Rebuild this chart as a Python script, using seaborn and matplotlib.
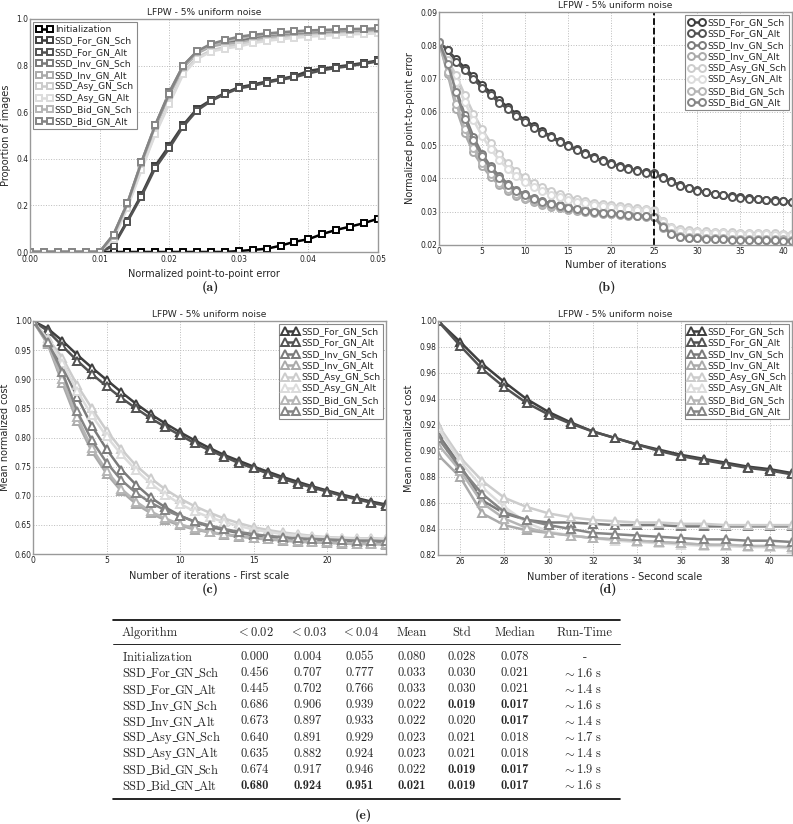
import matplotlib
matplotlib.use("Agg")
import matplotlib.pyplot as plt
import seaborn as sns
import numpy as np
from matplotlib.lines import Line2D

sns.set_style("whitegrid", {"grid.linestyle": ":", "grid.color": "#bbbbbb",
                            "axes.edgecolor": "#999999", "xtick.direction": "in",
                            "ytick.direction": "in"})
plt.rcParams['font.family'] = ['DejaVu Sans']
plt.rcParams['mathtext.fontset'] = 'cm'

# ---------------- data ----------------
methods = ['SSD_For_GN_Sch', 'SSD_For_GN_Alt', 'SSD_Inv_GN_Sch', 'SSD_Inv_GN_Alt',
           'SSD_Asy_GN_Sch', 'SSD_Asy_GN_Alt', 'SSD_Bid_GN_Sch', 'SSD_Bid_GN_Alt']
colors = ['#3e3e3e', '#525252', '#7a7a7a', '#aaaaaa', '#cccccc', '#dcdcdc', '#b5b5b5', '#858585']
init_color = '#000000'

# (a) cumulative error distribution
err_x = [0.000, 0.002, 0.004, 0.006, 0.008, 0.010, 0.012, 0.014, 0.016, 0.018, 0.020, 0.022, 0.024,
         0.026, 0.028, 0.030, 0.032, 0.034, 0.036, 0.038, 0.040, 0.042, 0.044, 0.046, 0.048, 0.050]
ced_init = [0, 0, 0, 0, 0, 0, 0, 0, 0, 0, 0, 0, 0, 0, 0,
            0.004, 0.009, 0.014, 0.027, 0.044, 0.055, 0.077, 0.095, 0.109, 0.124, 0.143]
ced_for_sch = [0, 0, 0, 0, 0, 0, 0.030, 0.135, 0.245, 0.370, 0.456, 0.545, 0.615, 0.652, 0.682, 0.707,
               0.718, 0.732, 0.743, 0.755, 0.777, 0.787, 0.795, 0.803, 0.812, 0.822]
ced_for_alt = [0, 0, 0, 0, 0, 0, 0.025, 0.130, 0.238, 0.360, 0.445, 0.538, 0.607, 0.648, 0.678, 0.702,
               0.713, 0.727, 0.739, 0.750, 0.766, 0.780, 0.790, 0.798, 0.808, 0.818]
ced_inv_sch = [0, 0, 0, 0, 0, 0, 0.075, 0.210, 0.385, 0.545, 0.686, 0.800, 0.860, 0.890, 0.900, 0.906,
               0.918, 0.927, 0.933, 0.937, 0.939, 0.942, 0.945, 0.947, 0.949, 0.951]
ced_inv_alt = [0, 0, 0, 0, 0, 0, 0.070, 0.205, 0.375, 0.535, 0.673, 0.790, 0.852, 0.882, 0.893, 0.897,
               0.910, 0.920, 0.926, 0.930, 0.933, 0.936, 0.939, 0.941, 0.943, 0.945]
ced_asy_sch = [0, 0, 0, 0, 0, 0, 0.060, 0.195, 0.355, 0.510, 0.640, 0.770, 0.835, 0.865, 0.880, 0.891,
               0.903, 0.912, 0.918, 0.924, 0.929, 0.932, 0.935, 0.938, 0.940, 0.942]
ced_asy_alt = [0, 0, 0, 0, 0, 0, 0.055, 0.190, 0.350, 0.505, 0.635, 0.762, 0.828, 0.860, 0.873, 0.882,
               0.896, 0.906, 0.913, 0.919, 0.924, 0.928, 0.931, 0.934, 0.936, 0.938]
ced_bid_sch = [0, 0, 0, 0, 0, 0, 0.070, 0.205, 0.380, 0.540, 0.674, 0.795, 0.857, 0.888, 0.905, 0.917,
               0.927, 0.934, 0.939, 0.943, 0.946, 0.949, 0.951, 0.953, 0.955, 0.957]
ced_bid_alt = [0, 0, 0, 0, 0, 0, 0.075, 0.210, 0.385, 0.545, 0.680, 0.800, 0.862, 0.893, 0.910, 0.924,
               0.932, 0.938, 0.943, 0.947, 0.951, 0.953, 0.955, 0.957, 0.958, 0.960]
ced_all = [ced_for_sch, ced_for_alt, ced_inv_sch, ced_inv_alt,
           ced_asy_sch, ced_asy_alt, ced_bid_sch, ced_bid_alt]

# (b) error vs iterations
iters_b = list(range(0, 42))
err_for_sch = [0.081, 0.0785, 0.0758, 0.0732, 0.0707, 0.0682, 0.0658, 0.0635, 0.0614, 0.0594, 0.0575,
               0.0558, 0.0542, 0.0527, 0.0513, 0.0500, 0.0487, 0.0475, 0.0464, 0.0454, 0.0445,
               0.0437, 0.0430, 0.0424, 0.0418, 0.0415, 0.0403, 0.0391, 0.0380, 0.0372, 0.0365,
               0.0359, 0.0354, 0.0350, 0.0346, 0.0343, 0.0340, 0.0338, 0.0336, 0.0334, 0.0332, 0.0330]
err_for_alt = [0.081, 0.0785, 0.0750, 0.0725, 0.0698, 0.0673, 0.0650, 0.0628, 0.0608, 0.0588, 0.0570,
               0.0553, 0.0537, 0.0523, 0.0509, 0.0496, 0.0484, 0.0472, 0.0461, 0.0451, 0.0443,
               0.0435, 0.0428, 0.0422, 0.0417, 0.0413, 0.0400, 0.0388, 0.0378, 0.0370, 0.0363,
               0.0358, 0.0353, 0.0349, 0.0345, 0.0342, 0.0339, 0.0337, 0.0335, 0.0333, 0.0331, 0.0329]
err_inv_sch = [0.081, 0.0748, 0.0668, 0.0590, 0.0525, 0.0474, 0.0436, 0.0407, 0.0384, 0.0366, 0.0352,
               0.0341, 0.0332, 0.0325, 0.0319, 0.0314, 0.0309, 0.0305, 0.0302, 0.0299, 0.0297,
               0.0294, 0.0292, 0.0290, 0.0288, 0.0286, 0.0258, 0.0236, 0.0228, 0.0225, 0.0223,
               0.0222, 0.0221, 0.0220, 0.0219, 0.0218, 0.0217, 0.0217, 0.0216, 0.0216, 0.0215, 0.0215]
err_inv_alt = [0.081, 0.0715, 0.0610, 0.0535, 0.0478, 0.0438, 0.0405, 0.0380, 0.0362, 0.0348, 0.0337,
               0.0328, 0.0321, 0.0315, 0.0310, 0.0306, 0.0302, 0.0299, 0.0296, 0.0294, 0.0292,
               0.0290, 0.0288, 0.0286, 0.0285, 0.0283, 0.0252, 0.0232, 0.0225, 0.0222, 0.0221,
               0.0220, 0.0219, 0.0218, 0.0217, 0.0217, 0.0216, 0.0216, 0.0215, 0.0215, 0.0215, 0.0214]
err_asy_sch = [0.081, 0.0755, 0.0710, 0.0650, 0.0595, 0.0548, 0.0507, 0.0473, 0.0445, 0.0422, 0.0403,
               0.0387, 0.0374, 0.0363, 0.0353, 0.0345, 0.0338, 0.0332, 0.0327, 0.0323, 0.0319,
               0.0316, 0.0313, 0.0310, 0.0308, 0.0305, 0.0272, 0.0255, 0.0248, 0.0244, 0.0242,
               0.0241, 0.0240, 0.0239, 0.0238, 0.0237, 0.0236, 0.0236, 0.0235, 0.0235, 0.0234, 0.0234]
err_asy_alt = [0.081, 0.0740, 0.0690, 0.0630, 0.0575, 0.0528, 0.0488, 0.0455, 0.0428, 0.0406, 0.0388,
               0.0373, 0.0361, 0.0351, 0.0343, 0.0336, 0.0330, 0.0325, 0.0321, 0.0317, 0.0314,
               0.0311, 0.0308, 0.0306, 0.0304, 0.0302, 0.0268, 0.0250, 0.0243, 0.0240, 0.0238,
               0.0237, 0.0236, 0.0235, 0.0234, 0.0233, 0.0233, 0.0232, 0.0232, 0.0231, 0.0231, 0.0230]
err_bid_sch = [0.081, 0.0720, 0.0625, 0.0548, 0.0490, 0.0447, 0.0413, 0.0387, 0.0368, 0.0353, 0.0341,
               0.0332, 0.0324, 0.0318, 0.0313, 0.0308, 0.0304, 0.0301, 0.0298, 0.0296, 0.0294,
               0.0292, 0.0290, 0.0288, 0.0286, 0.0284, 0.0256, 0.0236, 0.0228, 0.0225, 0.0223,
               0.0222, 0.0221, 0.0220, 0.0219, 0.0219, 0.0218, 0.0218, 0.0217, 0.0217, 0.0217, 0.0216]
err_bid_alt = [0.081, 0.0745, 0.0660, 0.0580, 0.0515, 0.0467, 0.0430, 0.0402, 0.0380, 0.0363, 0.0349,
               0.0338, 0.0329, 0.0322, 0.0316, 0.0311, 0.0307, 0.0303, 0.0300, 0.0297, 0.0295,
               0.0292, 0.0290, 0.0288, 0.0286, 0.0283, 0.0255, 0.0233, 0.0225, 0.0222, 0.0220,
               0.0219, 0.0218, 0.0217, 0.0216, 0.0216, 0.0215, 0.0215, 0.0214, 0.0214, 0.0213, 0.0213]
err_all = [err_for_sch, err_for_alt, err_inv_sch, err_inv_alt,
           err_asy_sch, err_asy_alt, err_bid_sch, err_bid_alt]
scale_switch = 25

# (c) cost, first scale
iters_c = list(range(0, 25))
cost1_for_sch = [1.0, 0.987, 0.966, 0.942, 0.920, 0.899, 0.878, 0.858, 0.840, 0.824, 0.809, 0.795, 0.782,
                 0.770, 0.760, 0.750, 0.741, 0.732, 0.724, 0.716, 0.709, 0.702, 0.696, 0.690, 0.685]
cost1_for_alt = [1.0, 0.983, 0.957, 0.932, 0.909, 0.888, 0.868, 0.850, 0.833, 0.818, 0.804, 0.790, 0.778,
                 0.767, 0.756, 0.747, 0.738, 0.729, 0.721, 0.714, 0.707, 0.700, 0.694, 0.688, 0.683]
cost1_inv_sch = [1.0, 0.966, 0.922, 0.870, 0.820, 0.780, 0.745, 0.719, 0.697, 0.680, 0.666, 0.655, 0.647,
                 0.641, 0.636, 0.632, 0.629, 0.627, 0.625, 0.623, 0.622, 0.621, 0.620, 0.619, 0.618]
cost1_inv_alt = [1.0, 0.960, 0.893, 0.828, 0.776, 0.738, 0.708, 0.686, 0.670, 0.658, 0.649, 0.642, 0.637,
                 0.633, 0.630, 0.627, 0.625, 0.623, 0.621, 0.620, 0.619, 0.618, 0.617, 0.617, 0.616]
cost1_asy_sch = [1.0, 0.970, 0.937, 0.890, 0.850, 0.812, 0.780, 0.752, 0.730, 0.711, 0.695, 0.682, 0.671,
                 0.661, 0.653, 0.646, 0.641, 0.637, 0.634, 0.631, 0.629, 0.628, 0.627, 0.627, 0.626]
cost1_asy_alt = [1.0, 0.968, 0.928, 0.880, 0.838, 0.802, 0.771, 0.744, 0.721, 0.702, 0.686, 0.673, 0.663,
                 0.655, 0.648, 0.642, 0.638, 0.634, 0.632, 0.630, 0.628, 0.627, 0.626, 0.626, 0.625]
cost1_bid_sch = [1.0, 0.962, 0.900, 0.835, 0.782, 0.743, 0.712, 0.690, 0.673, 0.661, 0.651, 0.644, 0.638,
                 0.634, 0.631, 0.628, 0.626, 0.624, 0.622, 0.621, 0.620, 0.619, 0.618, 0.618, 0.617]
cost1_bid_alt = [1.0, 0.964, 0.912, 0.845, 0.795, 0.757, 0.727, 0.705, 0.688, 0.675, 0.665, 0.656, 0.649,
                 0.643, 0.638, 0.634, 0.631, 0.629, 0.627, 0.626, 0.625, 0.624, 0.623, 0.623, 0.622]
cost1_all = [cost1_for_sch, cost1_for_alt, cost1_inv_sch, cost1_inv_alt,
             cost1_asy_sch, cost1_asy_alt, cost1_bid_sch, cost1_bid_alt]

# (d) cost, second scale
iters_d = list(range(25, 42))
cost2_for_sch = [1.0, 0.984, 0.967, 0.953, 0.940, 0.930, 0.922, 0.915, 0.910, 0.905, 0.901, 0.897,
                 0.894, 0.891, 0.888, 0.886, 0.883]
cost2_for_alt = [1.0, 0.981, 0.963, 0.949, 0.937, 0.928, 0.921, 0.915, 0.910, 0.905, 0.900, 0.896,
                 0.893, 0.890, 0.887, 0.885, 0.882]
cost2_inv_sch = [0.913, 0.889, 0.862, 0.852, 0.847, 0.845, 0.845, 0.844, 0.843, 0.843, 0.843, 0.842,
                 0.842, 0.842, 0.842, 0.842, 0.842]
cost2_inv_alt = [0.897, 0.880, 0.852, 0.843, 0.839, 0.837, 0.835, 0.833, 0.832, 0.831, 0.830, 0.829,
                 0.828, 0.827, 0.827, 0.826, 0.826]
cost2_asy_sch = [0.920, 0.895, 0.877, 0.864, 0.857, 0.852, 0.849, 0.847, 0.846, 0.845, 0.845, 0.844,
                 0.844, 0.843, 0.843, 0.843, 0.843]
cost2_asy_alt = [0.918, 0.892, 0.872, 0.857, 0.845, 0.838, 0.835, 0.833, 0.831, 0.830, 0.829, 0.828,
                 0.827, 0.827, 0.826, 0.826, 0.825]
cost2_bid_sch = [0.905, 0.885, 0.860, 0.848, 0.841, 0.837, 0.835, 0.833, 0.832, 0.831, 0.830, 0.829,
                 0.828, 0.828, 0.827, 0.827, 0.826]
cost2_bid_alt = [0.910, 0.887, 0.867, 0.853, 0.847, 0.843, 0.840, 0.837, 0.836, 0.835, 0.834, 0.833,
                 0.832, 0.832, 0.831, 0.831, 0.830]
cost2_all = [cost2_for_sch, cost2_for_alt, cost2_inv_sch, cost2_inv_alt,
             cost2_asy_sch, cost2_asy_alt, cost2_bid_sch, cost2_bid_alt]

# (e) table
table_header = ['Algorithm', '< 0.02', '< 0.03', '< 0.04', 'Mean', 'Std', 'Median', 'Run-Time']
table_rows = ['Initialization'] + methods
table_vals = [
    ['0.000', '0.004', '0.055', '0.080', '0.028', '0.078'],
    ['0.456', '0.707', '0.777', '0.033', '0.030', '0.021'],
    ['0.445', '0.702', '0.766', '0.033', '0.030', '0.021'],
    ['0.686', '0.906', '0.939', '0.022', '0.019', '0.017'],
    ['0.673', '0.897', '0.933', '0.022', '0.020', '0.017'],
    ['0.640', '0.891', '0.929', '0.023', '0.021', '0.018'],
    ['0.635', '0.882', '0.924', '0.023', '0.021', '0.018'],
    ['0.674', '0.917', '0.946', '0.022', '0.019', '0.017'],
    ['0.680', '0.924', '0.951', '0.021', '0.019', '0.017'],
]
table_bold = [
    [0, 0, 0, 0, 0, 0], [0, 0, 0, 0, 0, 0], [0, 0, 0, 0, 0, 0],
    [0, 0, 0, 0, 1, 1], [0, 0, 0, 0, 0, 1], [0, 0, 0, 0, 0, 0],
    [0, 0, 0, 0, 0, 0], [0, 0, 0, 0, 1, 1], [1, 1, 1, 1, 1, 1],
]
run_times = ['-', '1.6', '1.4', '1.6', '1.4', '1.7', '1.4', '1.9', '1.6']

# ---------------- figure ----------------
W, H = 793, 824
fig = plt.figure(figsize=(W / 100, H / 100), dpi=100)


def px_axes(l, t, r, b):
    return fig.add_axes([l / W, 1 - b / H, (r - l) / W, (b - t) / H])


def style_ax(ax):
    ax.tick_params(labelsize=5.5, length=3, width=0.6, colors='#999999', labelcolor='#222222')
    ax.tick_params(axis='y', pad=1)
    ax.tick_params(axis='x', pad=1.5)
    for s in ax.spines.values():
        s.set_linewidth(1.0)
    ax.grid(True, linestyle=':', color='#bbbbbb', linewidth=0.7)
    ax.set_title('LFPW - 5% uniform noise', fontsize=6.6, pad=3)


ax_a = px_axes(30, 19, 378, 252)
ax_b = px_axes(439, 12, 792, 245)
ax_c = px_axes(33, 321, 386, 554)
ax_d = px_axes(438, 321, 792, 555)

line_kw = dict(linewidth=1.8, markeredgewidth=1.4, markerfacecolor='white')

# (a)
sns.lineplot(x=err_x, y=ced_init, ax=ax_a, color=init_color, marker='s', markersize=5,
             markeredgecolor=init_color, label='Initialization', **line_kw)
for name, col, vals in zip(methods, colors, ced_all):
    sns.lineplot(x=err_x, y=vals, ax=ax_a, color=col, marker='s', markersize=5,
                 markeredgecolor=col, label=name, **line_kw)
ax_a.set_xlim(0, 0.05)
ax_a.set_ylim(0, 1.0)
ax_a.set_xticks([0, 0.01, 0.02, 0.03, 0.04, 0.05])
ax_a.set_xticklabels(['0.00', '0.01', '0.02', '0.03', '0.04', '0.05'])
ax_a.set_yticks([0, 0.2, 0.4, 0.6, 0.8, 1.0])
ax_a.set_yticklabels(['0.0', '0.2', '0.4', '0.6', '0.8', '1.0'])
ax_a.set_xlabel('Normalized point-to-point error', fontsize=7, labelpad=3)
ax_a.set_ylabel('Proportion of images', fontsize=7, labelpad=4)

# (b)
for name, col, vals in zip(methods, colors, err_all):
    sns.lineplot(x=iters_b, y=vals, ax=ax_b, color=col, marker='o', markersize=5,
                 markeredgecolor=col, label=name, **line_kw)
ax_b.axvline(scale_switch, color='black', linestyle='--', linewidth=1.3)
ax_b.set_xlim(0, 41)
ax_b.set_ylim(0.02, 0.09)
ax_b.set_xticks([0, 5, 10, 15, 20, 25, 30, 35, 40])
ax_b.set_yticks([0.02, 0.03, 0.04, 0.05, 0.06, 0.07, 0.08, 0.09])
ax_b.set_yticklabels(['0.02', '0.03', '0.04', '0.05', '0.06', '0.07', '0.08', '0.09'])
ax_b.set_xlabel('Number of iterations', fontsize=7, labelpad=3)
ax_b.set_ylabel('Normalized point-to-point error', fontsize=7, labelpad=4)

# (c)
for name, col, vals in zip(methods, colors, cost1_all):
    sns.lineplot(x=iters_c, y=vals, ax=ax_c, color=col, marker='^', markersize=6,
                 markeredgecolor=col, label=name, **line_kw)
ax_c.set_xlim(0, 24)
ax_c.set_ylim(0.60, 1.00)
ax_c.set_xticks([0, 5, 10, 15, 20])
ax_c.set_yticks([0.60, 0.65, 0.70, 0.75, 0.80, 0.85, 0.90, 0.95, 1.00])
ax_c.set_yticklabels(['0.60', '0.65', '0.70', '0.75', '0.80', '0.85', '0.90', '0.95', '1.00'])
ax_c.set_xlabel('Number of iterations - First scale', fontsize=7, labelpad=4)
ax_c.set_ylabel('Mean normalized cost', fontsize=7, labelpad=3)

# (d)
for name, col, vals in zip(methods, colors, cost2_all):
    sns.lineplot(x=iters_d, y=vals, ax=ax_d, color=col, marker='^', markersize=6,
                 markeredgecolor=col, label=name, **line_kw)
ax_d.set_xlim(25, 41)
ax_d.set_ylim(0.82, 1.00)
ax_d.set_xticks([26, 28, 30, 32, 34, 36, 38, 40])
ax_d.set_yticks([0.82, 0.84, 0.86, 0.88, 0.90, 0.92, 0.94, 0.96, 0.98, 1.00])
ax_d.set_yticklabels(['0.82', '0.84', '0.86', '0.88', '0.90', '0.92', '0.94', '0.96', '0.98', '1.00'])
ax_d.set_xlabel('Number of iterations - Second scale', fontsize=7, labelpad=4)
ax_d.set_ylabel('Mean normalized cost', fontsize=7, labelpad=4)

for ax, loc in [(ax_a, 'upper left'), (ax_b, 'upper right'), (ax_c, 'upper right'), (ax_d, 'upper right')]:
    style_ax(ax)
    leg = ax.legend(loc=loc, fontsize=6.6, numpoints=2, handlelength=1.8, handletextpad=0.25,
                    labelspacing=0.27, borderpad=0.3, borderaxespad=0.35, fancybox=False,
                    framealpha=1, edgecolor='#888888')
    leg.get_frame().set_linewidth(0.8)
ax_a.tick_params(axis='x', pad=2.5)

# panel labels
for lab, xp, yp in [('(a)', 210, 288), ('(b)', 607, 287), ('(c)', 210, 589), ('(d)', 608, 589)]:
    fig.text(xp / W, 1 - yp / H, lab, fontsize=10, ha='center', va='center', family='cmb10')


# table
def fy(y):
    return 1 - y / H


fig.add_artist(Line2D([113 / W, 620 / W], [fy(620), fy(620)], color='black', linewidth=1.2))
fig.add_artist(Line2D([113 / W, 620 / W], [fy(644), fy(644)], color='black', linewidth=0.6))
fig.add_artist(Line2D([113 / W, 620 / W], [fy(799), fy(799)], color='black', linewidth=1.2))

col_x = [255, 308, 360, 412, 462, 515]
tfs = 9
header_y = 633
fig.text(122 / W, fy(header_y), 'Algorithm', fontsize=tfs, ha='left', va='center', family='cmr10')
for cx, h in zip(col_x, table_header[1:7]):
    if h.startswith('<'):
        fig.text(cx / W, fy(header_y), r'$<' + h[1:].strip() + r'$', fontsize=tfs,
                 ha='center', va='center')
    else:
        fig.text(cx / W, fy(header_y), h, fontsize=tfs, ha='center', va='center', family='cmr10')
fig.text(585 / W, fy(header_y), table_header[7], fontsize=tfs, ha='center', va='center', family='cmr10')

for i, (rname, vals, bolds, rt) in enumerate(zip(table_rows, table_vals, table_bold, run_times)):
    y = 657 + i * 16.1
    fig.text(122 / W, fy(y), r'$\mathrm{' + rname.replace('_', r'\_\!') + r'}$',
             fontsize=tfs, ha='left', va='center')
    for cx, v, b in zip(col_x, vals, bolds):
        fig.text(cx / W, fy(y), v, fontsize=tfs, ha='center', va='center',
                 family='cmb10' if b else 'cmr10')
    if rt == '-':
        fig.text(585 / W, fy(y), '-', fontsize=tfs, ha='center', va='center', family='cmr10')
    else:
        fig.text(582 / W, fy(y), r'$\sim ' + rt + r'\ \mathrm{s}$', fontsize=tfs, ha='center', va='center')

fig.text(363 / W, fy(815), '(e)', fontsize=10, ha='center', va='center', family='cmb10')

fig.savefig('out.png', dpi=100)
